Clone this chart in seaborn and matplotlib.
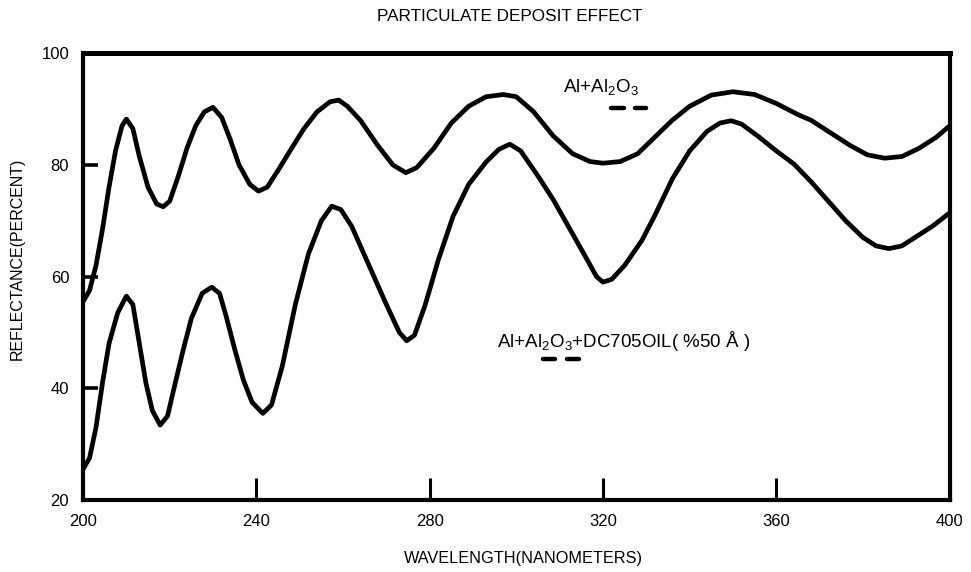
import pandas as pd
import seaborn as sns
import matplotlib.pyplot as plt

# lecturas de la figura escaneada (nm, % reflectancia)
wl_al = [200, 201.5, 203, 204.5, 206, 207.5, 209, 210, 211.5, 213, 215, 217, 218.5,
         220, 222, 224, 226, 228, 230, 232, 234, 236, 238.5, 240.5, 242.5, 245, 248,
         251, 254, 257, 259, 261, 264, 268, 271.5, 274.5, 277, 281, 285, 289, 293,
         297, 300, 304, 308.5, 313, 317, 320, 324, 328, 332, 336, 340, 345, 350, 355,
         360, 365, 368, 372, 377, 381, 385, 389, 393, 397, 400]
refl_al = [55.5, 57.5, 62, 68.5, 76, 82.5, 87, 88.2, 86.5, 81.5, 76, 73, 72.5,
           73.5, 78, 83, 87, 89.5, 90.3, 88.5, 84.5, 80, 76.5, 75.3, 76, 79, 82.8,
           86.5, 89.5, 91.3, 91.6, 90.5, 88, 83.5, 80, 78.6, 79.5, 83, 87.5, 90.5, 92.2,
           92.6, 92.2, 89.5, 85.2, 82, 80.6, 80.3, 80.6, 82, 85, 88, 90.5, 92.5, 93.1, 92.6,
           91, 89, 88, 86, 83.5, 81.8, 81.2, 81.5, 83, 85, 87]

wl_oil = [200, 201.5, 203, 204.5, 206, 208, 210, 211.5, 213, 214.5, 216, 217.8, 219.5,
          221, 223, 225, 227.5, 229.7, 231.5, 233, 235, 237, 239, 241.5, 243.5, 246, 249,
          252, 255, 257.4, 259.5, 262, 266, 270, 273, 274.7, 276.5, 279, 282, 285.4, 289,
          293, 296, 298.5, 301, 305, 308.5, 312, 316, 318.5, 320, 322, 325, 329, 332, 336,
          340, 344, 347, 349.6, 352, 356, 360, 364, 368, 372, 376, 380, 383, 386, 389,
          392, 396, 400]
refl_oil = [25.5, 27.5, 33, 41, 48, 53.5, 56.5, 55, 48, 41, 36, 33.4, 35,
            40, 46.5, 52.5, 57, 58.1, 57, 53, 47, 41.5, 37.5, 35.5, 37, 44, 55,
            64, 70, 72.6, 72, 69, 62, 55, 50, 48.5, 49.5, 55, 63, 70.8, 76.5,
            80.5, 82.8, 83.7, 82.5, 78, 73.8, 69, 63.5, 60, 59, 59.5, 62, 66.5, 71, 77.5,
            82.5, 86, 87.5, 87.9, 87.3, 85, 82.5, 80.2, 77, 73.5, 70, 67, 65.5, 65, 65.5,
            67, 69, 71.4]

x_ticks = [200, 240, 280, 320, 360, 400]
y_ticks = [20, 40, 60, 80, 100]

df = pd.concat([
    pd.DataFrame({'wl': wl_al, 'refl': refl_al, 'serie': 'al'}),
    pd.DataFrame({'wl': wl_oil, 'refl': refl_oil, 'serie': 'oil'}),
])

sns.set_style('white')
plt.rcParams['font.family'] = ['Liberation Sans', 'DejaVu Sans']
plt.rcParams['mathtext.default'] = 'regular'
plt.rcParams['text.color'] = 'black'
plt.rcParams['axes.labelcolor'] = 'black'
plt.rcParams['xtick.color'] = 'black'
plt.rcParams['ytick.color'] = 'black'

fig, ax = plt.subplots(figsize=(9.71, 5.72), dpi=100)
fig.subplots_adjust(left=0.0855, right=0.978, top=0.907, bottom=0.126)

sns.lineplot(data=df, x='wl', y='refl', hue='serie', palette=['black', 'black'],
             estimator=None, sort=False, linewidth=3.4, legend=False, ax=ax)

ax.set_xlim(200, 400)
ax.set_ylim(20, 100)
ax.set_xticks(x_ticks)
ax.set_yticks(y_ticks)
ax.tick_params(axis='x', bottom=True, direction='in', length=16, width=2.2, pad=10, labelsize=12)
ax.tick_params(axis='y', left=True, direction='in', length=11, width=2.6, pad=10, labelsize=12)
for s in ax.spines.values():
    s.set_visible(True)
    s.set_color('black')
    s.set_linewidth(3)
ax.spines['top'].set_linewidth(3.6)

ax.set_title('PARTICULATE DEPOSIT EFFECT', fontsize=12.3, pad=23, x=0.4925)
ax.set_xlabel('WAVELENGTH(NANOMETERS)', fontsize=11.7)
ax.set_ylabel('REFLECTANCE(PERCENT)', fontsize=11.5)
ax.xaxis.set_label_coords(0.508, -0.115)
ax.yaxis.set_label_coords(-0.067, 0.539)

# etiquetas de las curvas con sus rayitas
ax.text(310.7, 94, r'Al$+$Al$_2$O$_3$', fontsize=13.5, va='center')
ax.plot([321.8, 324.9], [90.2, 90.2], color='black', lw=3.2, solid_capstyle='round')
ax.plot([327.3, 330.0], [90.2, 90.2], color='black', lw=3.2, solid_capstyle='round')

ax.text(295.5, 48.5, r'Al$+$Al$_2$O$_3$+DC705OIL( %50 Å )', fontsize=13.5, va='center')
ax.plot([306.1, 308.9], [45.2, 45.2], color='black', lw=3.2, solid_capstyle='round')
ax.plot([311.6, 314.4], [45.2, 45.2], color='black', lw=3.2, solid_capstyle='round')

plt.savefig('out.png', dpi=100)
